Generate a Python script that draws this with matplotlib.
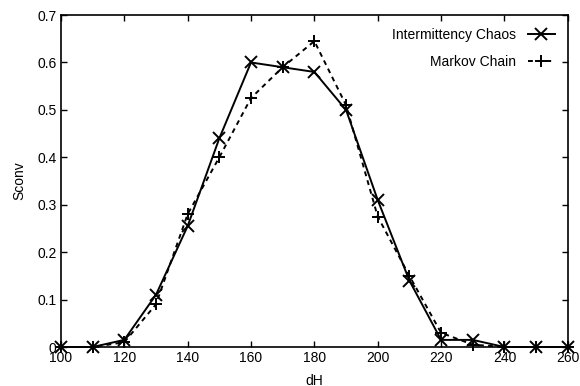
import matplotlib
matplotlib.use("Agg")
import matplotlib.pyplot as plt

plt.rcParams['font.family'] = ['Liberation Sans', 'DejaVu Sans']

dH = [100, 110, 120, 130, 140, 150, 160, 170, 180, 190, 200, 210, 220, 230, 240, 250, 260]
chaos = [0.0, 0.0, 0.015, 0.11, 0.255, 0.44, 0.60, 0.59, 0.58, 0.50, 0.31, 0.14, 0.015, 0.015, 0.0, 0.0, 0.0]
markov = [0.0, 0.0, 0.01, 0.09, 0.28, 0.40, 0.525, 0.59, 0.645, 0.51, 0.275, 0.15, 0.03, 0.005, 0.0, 0.0, 0.0]

fig = plt.figure(figsize=(5.8, 3.86), dpi=100)
ax = fig.add_axes([0.105, 0.101, 0.874, 0.860])

ax.plot(dH, chaos, color='black', lw=1.4, marker='x', ms=8, mew=1.4,
        label='Intermittency Chaos', clip_on=False, zorder=3)
ax.plot(dH, markov, color='black', lw=1.4, ls=(0, (2.5, 2.2)), marker='+', ms=9, mew=1.4,
        label='Markov Chain', clip_on=False, zorder=3)

ax.set_xlim(100, 260)
ax.set_ylim(0, 0.7)
ax.set_xticks(range(100, 261, 20))
ax.set_yticks([0, 0.1, 0.2, 0.3, 0.4, 0.5, 0.6, 0.7])
ax.set_yticklabels(['0', '0.1', '0.2', '0.3', '0.4', '0.5', '0.6', '0.7'])
ax.tick_params(direction='in', top=True, right=True, length=4, width=1, labelsize=10, pad=3)
for s in ax.spines.values():
    s.set_linewidth(1.2)

ax.set_xlabel('dH', fontsize=10, labelpad=6)
ax.set_ylabel('Sconv', fontsize=10, labelpad=8)

ax.legend(loc='upper right', frameon=False, markerfirst=False, fontsize=10,
          handlelength=2.0, borderaxespad=0.5, labelspacing=0.95)

fig.savefig('out.png', dpi=100)
